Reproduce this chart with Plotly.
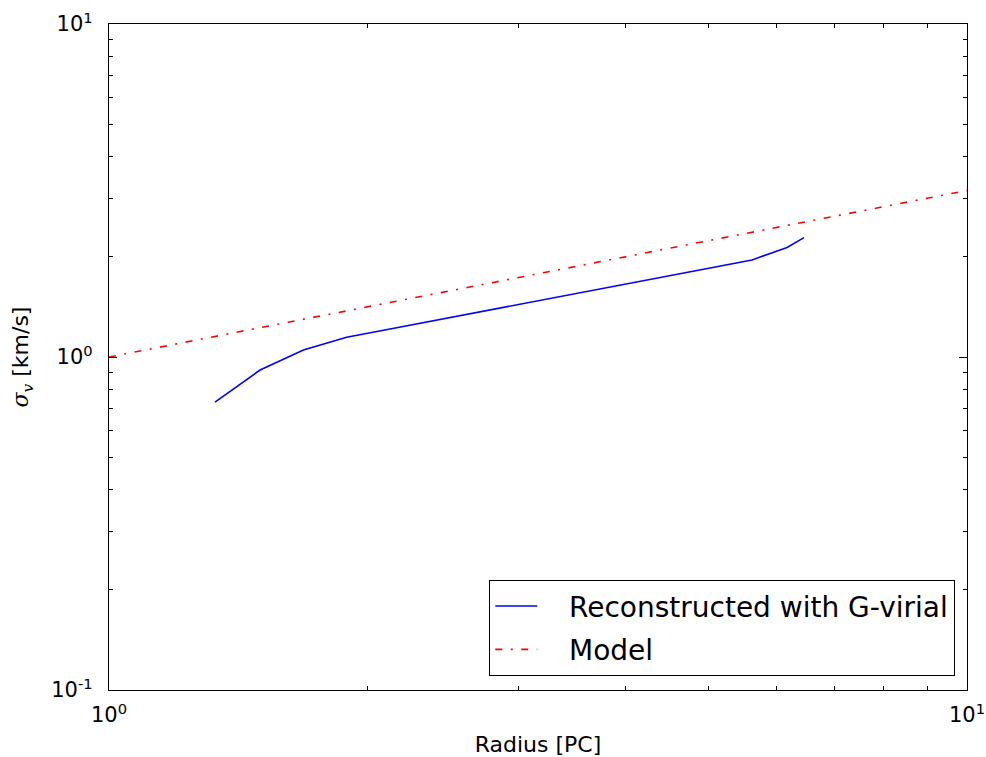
import numpy as np
import plotly.graph_objects as go

# Velocity dispersion reconstructed with the G-virial method
radius_pc = [1.329, 1.50, 1.685, 1.892, 2.126, 2.399, 2.699, 3.038, 3.419,
             3.847, 4.329, 4.871, 5.616, 6.17, 6.457]
sigma_kms = [0.732, 0.914, 1.05, 1.146, 1.214, 1.288, 1.365, 1.447, 1.533,
             1.625, 1.722, 1.825, 1.956, 2.132, 2.282]

# Model: sigma_v = R^0.5 over the plotted range
model_radius = [1.0, 10.0]
model_sigma = [1.0, 3.162]

x_tickvals = [1, 10]
x_ticktext = ["10<sup>0</sup>", "10<sup>1</sup>"]
y_tickvals = [0.1, 1, 10]
y_ticktext = ["10<sup>-1</sup>", "10<sup>0</sup>", "10<sup>1</sup>"]

# minor ticks at 2..9 within each decade
x_minor = [m * 10 ** d for d in range(0, 1) for m in range(2, 10)]
y_minor = [m * 10 ** d for d in range(-1, 1) for m in range(2, 10)]

# gap between the legend line sample and its label
PAD = "\u00a0\u00a0\u00a0"

fig = go.Figure()
fig.add_trace(go.Scatter(
    x=radius_pc, y=sigma_kms, mode="lines",
    name=PAD + "Reconstructed with G-virial", legendgroup="rec",
    line=dict(color="#0000ff", width=1.6),
))
fig.add_trace(go.Scatter(
    x=model_radius, y=model_sigma, mode="lines",
    name=PAD + "Model", legendgroup="model",
    line=dict(color="#ff0000", width=1.6, dash="7px,8.5px,2px,8.5px"),
))

axis_common = dict(
    type="log",
    automargin=False,
    showline=True, linecolor="black", linewidth=1.3,
    mirror="allticks",
    ticks="inside", ticklen=8, tickwidth=1, tickcolor="black",
    showgrid=False, zeroline=False,
    tickfont=dict(family="DejaVu Sans", size=21, color="black"),
)

fig.update_xaxes(
    **axis_common,
    range=[0, 1],
    tickmode="array", tickvals=x_tickvals, ticktext=x_ticktext,
    ticklabelstandoff=6,
    minor=dict(tickmode="array", tickvals=x_minor, ticks="inside",
               ticklen=4, tickwidth=1, tickcolor="black", showgrid=False),
    title=dict(text="Radius [PC]", font=dict(family="DejaVu Sans", size=22,
                                              color="black"), standoff=14),
)
fig.update_yaxes(
    **axis_common,
    range=[-1, 1],
    tickmode="array", tickvals=y_tickvals, ticktext=y_ticktext,
    ticklabelstandoff=11,
    minor=dict(tickmode="array", tickvals=y_minor, ticks="inside",
               ticklen=4, tickwidth=1, tickcolor="black", showgrid=False),
    title=dict(
        text=("<span style=\"font-family:'DejaVu Serif'\"><i>σ</i>"
              "<sub><i>v</i></sub></span> [km/s]"),
        font=dict(family="DejaVu Sans", size=22, color="black"),
        standoff=16),
)

fig.update_layout(
    width=986, height=757,
    margin=dict(l=109, r=19, t=24, b=67),
    paper_bgcolor="white", plot_bgcolor="white",
    showlegend=True,
    legend=dict(
        x=0.986, y=0.021, xanchor="right", yanchor="bottom",
        bgcolor="white", bordercolor="black", borderwidth=1.3,
        font=dict(family="DejaVu Sans", size=28, color="black"),
        itemwidth=42, tracegroupgap=4,
    ),
)

fig.write_html("out.html")
